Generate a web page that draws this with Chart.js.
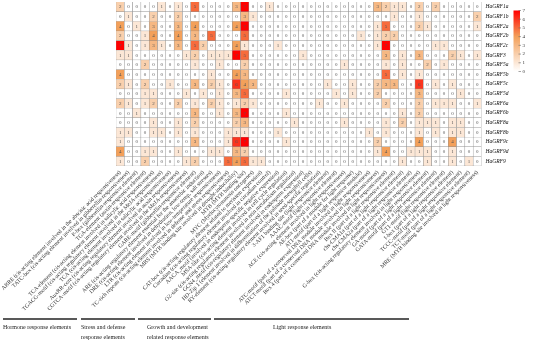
<!DOCTYPE html>
<html>
<head>
<meta charset="utf-8">
<script src="https://cdn.jsdelivr.net/npm/chart.js@4.4.1/dist/chart.umd.min.js"></script>
<style>
  html, body { margin: 0; padding: 0; background: #fff; }
</style>
</head>
<body>
<canvas id="myChart" width="550" height="343"></canvas>
<script>
// rows of the heatmap
const genes = ["HaGRF1a","HaGRF1b","HaGRF2a","HaGRF2b","HaGRF2c","HaGRF3","HaGRF5a","HaGRF5b","HaGRF5c","HaGRF5d","HaGRF6a","HaGRF6b","HaGRF8a","HaGRF8b","HaGRF9c","HaGRF9d","HaGRF9"];

// columns (cis-acting elements)
const elements = [
    "ABRE (cis-acting element involved in the abscisic acid responsiveness)",
    "TATC-box (cis-acting element involved in gibberellin-responsiveness)",
    "P-box (gibberellin-responsive element)",
    "TGA-element (auxin-responsive element)",
    "TCA-element (cis-acting element involved in salicylic acid responsiveness)",
    "TGACG-motif (cis-acting regulatory element involved in the MeJA-responsiveness)",
    "TCA (cis-acting element involved in salicylic acid responsiveness)",
    "AuxRR-core (cis-acting regulatory element involved in auxin responsiveness)",
    "CGTCA-motif (cis-acting regulatory element involved in the MeJA-responsiveness)",
    "GARE-motif (gibberellin-responsive element)",
    "ARE (cis-acting regulatory element essential for the anaerobic induction)",
    "DRE (cis-acting element involved in dehydration, low-temp, salt stresses)",
    "LTR (cis-acting element involved in low-temperature responsiveness)",
    "TC-rich repeats (cis-acting element involved in defense and stress responsiveness)",
    "MBS (MYB binding site involved in drought-inducibility)",
    "MYB (MYB binding site)",
    "MYC (Myelocytomatosis oncogenes)",
    "CAT-box (cis-acting regulatory element related to meristem expression)",
    "Circadian (cis-acting regulatory element involved in circadian control)",
    "AACA_motif (involved in endosperm-specific negative expression)",
    "MSA-like (cis-acting element involved in cell cycle regulation)",
    "O2-site (cis-acting regulatory element involved in zein metabolism regulation)",
    "GCN4_motif (cis-regulatory element involved in endosperm expression)",
    "HD-Zip 1 (element involved in differentiation of the palisade mesophyll cells)",
    "RY-element (cis-acting regulatory element involved in seed-specific regulation)",
    "3-AF1 binding site (light responsive element)",
    "AAAC-motif (light responsive element)",
    "ACE (cis-acting element involved in light responsiveness)",
    "AE-box (part of a module for light response)",
    "AT1-motif (part of a light responsive module)",
    "ATC-motif (part of a conserved DNA module involved in light responsiveness)",
    "ATCT-motif (part of a conserved DNA module involved in light responsiveness)",
    "Box 4 (part of a conserved DNA module involved in light responsiveness)",
    "Box II (part of a light responsive element)",
    "chs-CMA1a (part of a light responsive element)",
    "chs-CMA2a (part of a light responsive element)",
    "G-box (cis-acting regulatory element involved in light responsiveness)",
    "GA-motif (part of a light responsive element)",
    "GATA-motif (part of a light responsive element)",
    "GT1-motif (light responsive element)",
    "I-box (part of a light responsive element)",
    "TCCC-motif (part of a light responsive element)",
    "TCT-motif (part of a light responsive element)",
    "MRE (MYB binding site involved in light responsiveness)"
];

// number of elements per gene, one row per gene
const counts = [
    [2,0,0,0,0,1,0,1,0,5, 0,0,0,0,3,7,0,0,1,0, 0,0,0,0,0,0,0,0,0,0, 0,3,2,1,1,0,2,0,2,0, 0,0,0,0], // 1a
    [0,1,0,0,2,0,0,2,0,0, 0,0,0,0,0,3,1,0,0,0, 0,0,0,0,0,0,0,0,0,0, 0,0,0,1,0,0,1,0,0,0, 0,0,0,2], // 1b
    [4,0,1,0,3,0,0,3,0,4, 0,0,0,0,4,7,0,0,0,0, 0,0,0,0,0,0,0,0,0,0, 0,1,5,0,0,0,2,1,0,0, 0,0,0,1], // 2a
    [2,0,0,1,4,0,0,4,0,3, 0,5,0,0,0,5,0,0,0,0, 0,0,0,0,0,0,0,0,0,1, 0,1,2,2,0,0,0,0,0,0, 0,0,0,0], // 2b
    [7,1,0,1,3,1,0,3,0,5, 2,0,0,0,4,1,0,0,0,1, 0,0,0,0,0,0,0,0,0,0, 0,1,7,0,0,0,0,0,1,1, 0,0,0,0], // 2c
    [1,1,0,0,0,0,0,0,1,2, 0,1,1,1,7,5,0,0,0,0, 0,0,1,0,0,0,0,0,0,0, 0,0,3,0,1,0,3,0,0,0, 2,1,0,1], // 3
    [0,0,0,2,0,0,0,0,0,1, 0,0,1,0,0,2,0,0,0,0, 0,0,0,0,0,0,0,1,0,0, 0,0,1,0,1,0,0,2,0,1, 0,0,0,0], // 5a
    [4,0,0,0,0,0,0,0,0,0, 0,1,0,0,4,3,0,0,0,0, 0,0,0,0,0,0,0,0,0,0, 0,0,5,0,1,0,1,0,0,0, 0,0,0,0], // 5b
    [2,1,0,2,0,0,1,0,0,3, 0,2,1,0,6,4,3,0,0,0, 0,0,0,0,0,1,0,0,1,0, 0,2,3,3,0,0,6,0,1,0, 1,0,0,0], // 5c
    [0,0,0,1,1,0,0,0,1,0, 1,0,1,0,3,5,0,0,0,0, 1,0,0,0,0,0,1,0,1,0, 0,2,0,0,0,0,3,0,0,0, 0,1,0,0], // 5d
    [2,1,0,1,2,0,0,2,0,1, 0,2,1,0,1,2,1,0,0,0, 0,0,0,0,1,0,0,1,0,0, 0,0,2,0,0,0,2,0,1,1, 1,0,0,1], // 6a
    [0,0,1,0,0,0,0,0,0,3, 0,0,1,0,3,7,0,0,0,0, 1,0,0,0,0,0,0,0,0,0, 0,0,0,0,1,0,2,0,0,0, 0,0,0,0], // 6b
    [0,0,0,0,1,0,0,1,0,2, 0,0,0,0,2,3,0,0,0,0, 0,1,0,0,0,0,0,1,0,0, 0,0,1,0,2,0,1,1,1,0, 1,1,0,0], // 8a
    [1,1,0,0,1,1,0,1,0,1, 0,0,0,1,1,1,0,0,0,1, 0,0,0,0,0,0,0,0,0,0, 1,0,1,0,0,0,1,0,1,0, 1,1,0,0], // 8b
    [1,0,0,0,0,0,0,0,0,3, 0,0,0,1,6,7,0,0,0,0, 1,0,0,0,0,0,0,0,0,0, 0,2,0,0,0,0,4,0,0,0, 4,0,0,0], // 9c
    [4,0,0,1,1,0,0,1,0,0, 0,1,1,0,3,2,0,0,0,0, 0,0,0,0,0,0,0,0,0,0, 0,1,4,0,0,1,1,1,0,0, 1,0,0,0], // 9d
    [1,0,0,2,0,0,0,0,1,2, 0,0,0,5,4,5,1,1,0,0, 0,0,0,0,0,0,0,0,0,0, 0,0,0,0,1,0,0,1,0,0, 1,0,1,0]  // 9
];

const groupNames = ["Hormone response elements", "Stress and defense\nresponse elements", "Growth and development\nrelated response elements", "Light response elements"];
const legendTicks = [0,1,2,3,4,5,6,7];

// white -> orange -> red
const colorStops = [[0,[255,255,255]],[4,[243,160,90]],[7,[255,0,0]]];
const colorFor = (v) => {
    for (let i = 1; i < colorStops.length; i++) {
        const [v0, c0] = colorStops[i-1];
        const [v1, c1] = colorStops[i];
        if (v <= v1) {
            const t = (v - v0) / (v1 - v0);
            const c = c0.map((x, k) => Math.round(x + (c1[k] - x) * t));
            return `rgb(${c[0]},${c[1]},${c[2]})`;
        }
    }
    return "rgb(255,0,0)";
};

// numbers inside cells
const cellText = {
    id: "cellText",
    afterDatasetsDraw(chart) {
        const ctx = chart.ctx;
        ctx.save();
        ctx.font = "5px 'Liberation Serif'";
        ctx.fillStyle = "#555";
        ctx.textAlign = "center";
        ctx.textBaseline = "middle";
        chart.data.datasets.forEach((ds, d) => {
            chart.getDatasetMeta(d).data.forEach((el, i) => {
                ctx.fillText(counts[d][i], el.x, (el.y + el.base) / 2 + 0.3);
            });
        });
        ctx.restore();
    }
};

// colour bar + group captions
const extras = {
    id: "extras",
    afterDraw(chart) {
        const ctx = chart.ctx;
        ctx.save();
        // colour bar
        const bx = 513.5, bw = 6.5, top = 10.5, bot = 71.5;
        const g = ctx.createLinearGradient(0, bot, 0, top);
        colorStops.forEach(([v, c]) => g.addColorStop(v / 7, `rgb(${c[0]},${c[1]},${c[2]})`));
        ctx.fillStyle = g;
        ctx.fillRect(bx, top, bw, bot - top);
        ctx.font = "5px 'Liberation Serif'";
        ctx.fillStyle = "#333";
        ctx.strokeStyle = "#666";
        ctx.lineWidth = 0.6;
        ctx.textAlign = "left";
        ctx.textBaseline = "middle";
        legendTicks.forEach(v => {
            const y = bot - v / 7 * (bot - top);
            ctx.beginPath();
            ctx.moveTo(bx + bw - 1.5, y);
            ctx.lineTo(bx + bw + 1, y);
            ctx.stroke();
            ctx.fillText(v, bx + bw + 2.5, y);
        });

        // group lines and captions
        const segs = [[3,77],[81,135],[138,211],[214,409]];
        const textX = [3, 81, 147, 273];
        ctx.strokeStyle = "#222";
        ctx.lineWidth = 1.3;
        ctx.font = "6px 'Liberation Serif'";
        ctx.fillStyle = "#222";
        segs.forEach(([a, b], k) => {
            ctx.beginPath();
            ctx.moveTo(a, 319);
            ctx.lineTo(b, 319);
            ctx.stroke();
            groupNames[k].split("\n").forEach((line, j) => {
                ctx.fillText(line, textX[k], 327.5 + j * 10);
            });
        });
        ctx.restore();
    }
};

new Chart("myChart", {
    type: "bar",
    data: {
        labels: elements,
        datasets: genes.map((gene, r) => ({
            label: gene,
            data: counts[r].map(() => 1),
            backgroundColor: (c) => colorFor(counts[r][c.dataIndex]),
            borderColor: "#8f8f8f",
            borderWidth: 0.5,
            barPercentage: 1,
            categoryPercentage: 1
        }))
    },
    options: {
        responsive: false,
        animation: false,
        devicePixelRatio: 1,
        layout: { padding: { left: 116, right: 0, top: 2, bottom: 0 } },
        plugins: {
            legend: { display: false },
            tooltip: { enabled: false }
        },
        scales: {
            x: {
                stacked: true,
                offset: true,
                grid: { display: false, drawTicks: false },
                border: { display: false },
                ticks: {
                    autoSkip: false,
                    maxRotation: 45,
                    minRotation: 45,
                    padding: 3,
                    color: "#333",
                    font: { family: "'Liberation Serif'", size: 5.8 }
                },
                afterFit: (axis) => {
                    axis.height = 177;
                    axis.paddingLeft = 0;
                    axis.paddingRight = 0;
                }
            },
            y: {
                stacked: true,
                position: "right",
                min: 0,
                max: genes.length,
                reverse: true,
                grid: { display: false, drawTicks: false },
                border: { display: false },
                afterBuildTicks: (axis) => {
                    axis.ticks = genes.map((g, i) => ({ value: i + 0.5 }));
                },
                ticks: {
                    autoSkip: false,
                    padding: 4,
                    color: "#111",
                    font: { family: "'Liberation Serif'", size: 5.5, style: "italic" },
                    callback: (v) => genes[Math.floor(v)]
                },
                afterFit: (axis) => {
                    axis.width = 68.5;
                    axis.paddingTop = 0;
                    axis.paddingBottom = 0;
                }
            }
        }
    },
    plugins: [cellText, extras]
});
</script>
</body>
</html>
